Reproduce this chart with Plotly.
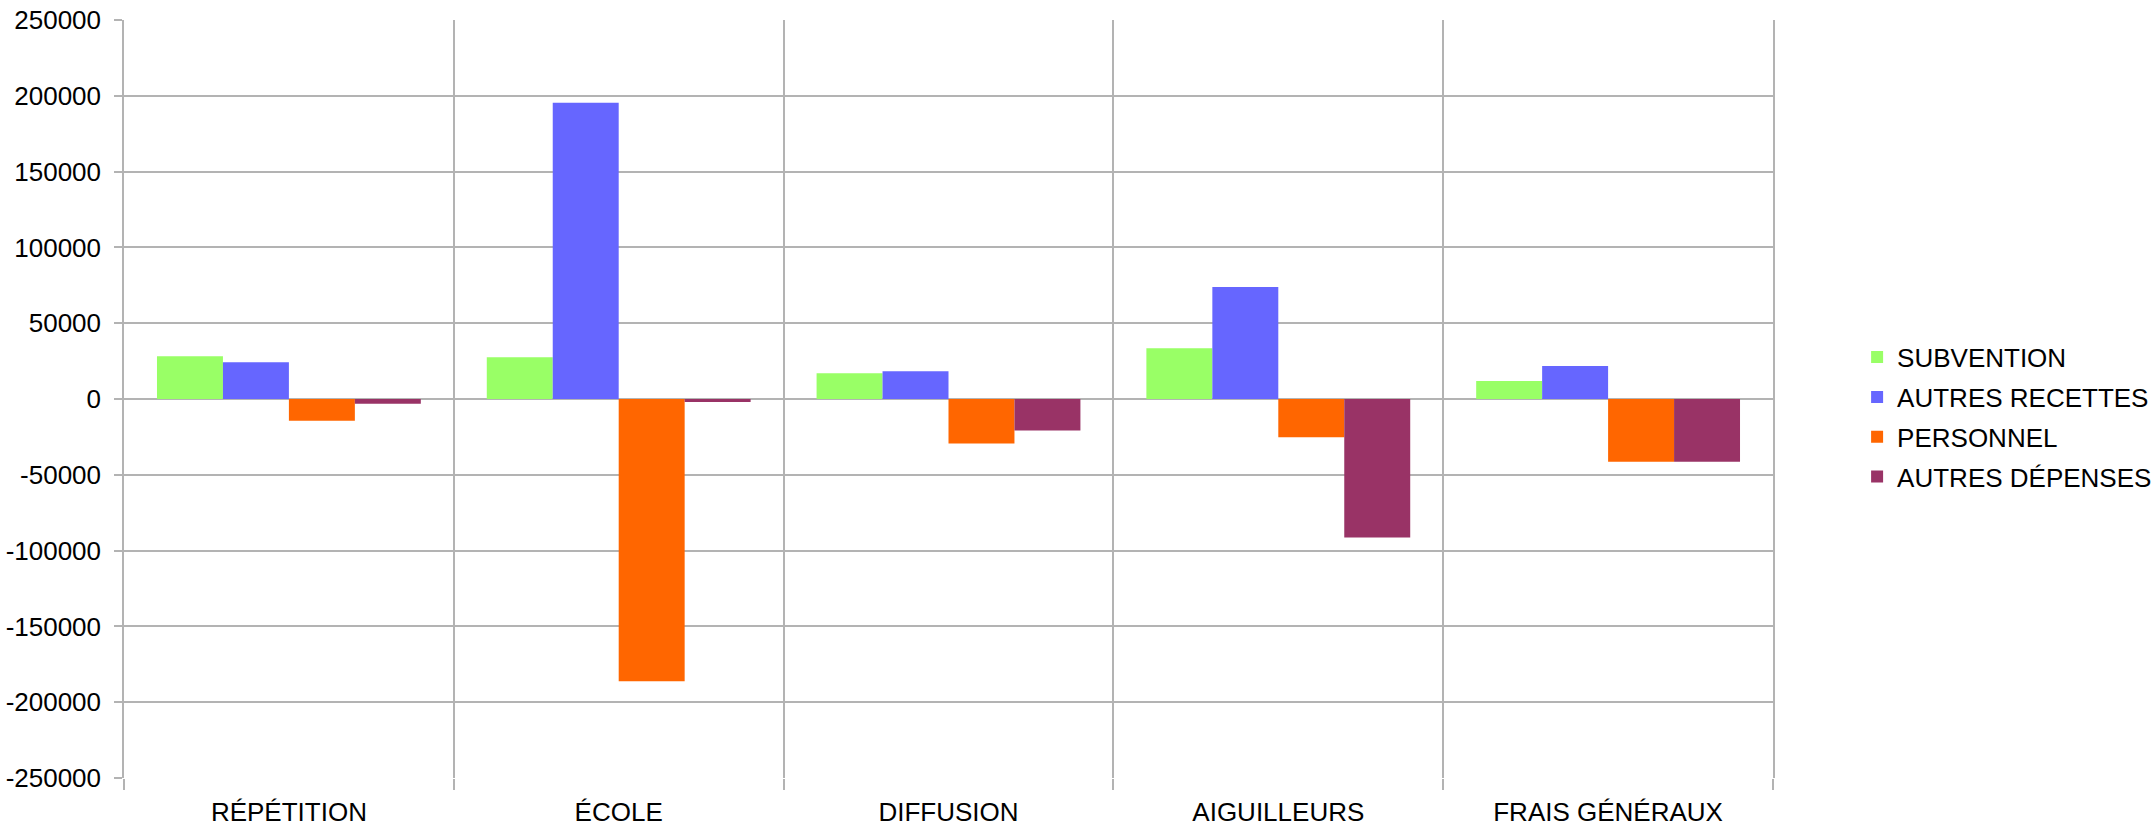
import plotly.graph_objects as go

categories = ["RÉPÉTITION", "ÉCOLE", "DIFFUSION", "AIGUILLEURS", "FRAIS GÉNÉRAUX"]
subvention = [28200, 27500, 17000, 33500, 11900]
autres_recettes = [24200, 195400, 18300, 73800, 21800]
personnel = [-14300, -186100, -29300, -25300, -41400]
autres_depenses = [-3200, -2000, -20700, -91400, -41400]
series_names = ["SUBVENTION", "AUTRES RECETTES", "PERSONNEL", "AUTRES DÉPENSES"]
series_values = [subvention, autres_recettes, personnel, autres_depenses]
series_colors = ["#99ff66", "#6666ff", "#ff6600", "#993366"]
y_ticks = [-250000, -200000, -150000, -100000, -50000, 0, 50000, 100000, 150000, 200000, 250000]

FONT = "Liberation Sans, Arial, sans-serif"
GRID = "#b3b3b3"

fig = go.Figure()
for name, vals, col in zip(series_names, series_values, series_colors):
    fig.add_trace(go.Bar(x=categories, y=vals, name=name, legendgroup=name,
                         marker=dict(color=col, line=dict(width=0))))

fig.update_layout(
    width=2156, height=826,
    paper_bgcolor="white", plot_bgcolor="white",
    margin=dict(l=124, r=383, t=20, b=48, autoexpand=False),
    barmode="group", bargap=0.2, bargroupgap=0,
    font=dict(family=FONT, size=26, color="black"),
    legend=dict(x=1.051, xanchor="left", y=0.476, yanchor="middle",
                font=dict(family=FONT, size=26, color="black"),
                bgcolor="rgba(0,0,0,0)", traceorder="grouped", tracegroupgap=3),
    showlegend=True,
)
fig.update_xaxes(
    type="category", range=[-0.5, 4.5], automargin=False,
    tickson="boundaries", showgrid=True, gridcolor=GRID, gridwidth=1.5,
    ticks="outside", ticklen=11, tickcolor=GRID, tickwidth=1.5,
    ticklabelstandoff=16,
    showline=False, tickfont=dict(family=FONT, size=26, color="black"),
)
fig.update_yaxes(
    range=[-250000, 250000], tickvals=y_ticks, ticktext=[str(v) for v in y_ticks],
    automargin=False,
    showgrid=True, gridcolor=GRID, gridwidth=1.5,
    zeroline=True, zerolinecolor=GRID, zerolinewidth=2,
    showline=True, linecolor=GRID, linewidth=1.5, mirror=True,
    ticks="outside", ticklen=8, tickcolor=GRID, tickwidth=1.5,
    ticklabelstandoff=8,
    tickfont=dict(family=FONT, size=26, color="black"),
)

fig.write_html("out.html", config={"displayModeBar": False},
               post_script="document.body.style.margin='0';document.body.style.overflow='hidden';")
